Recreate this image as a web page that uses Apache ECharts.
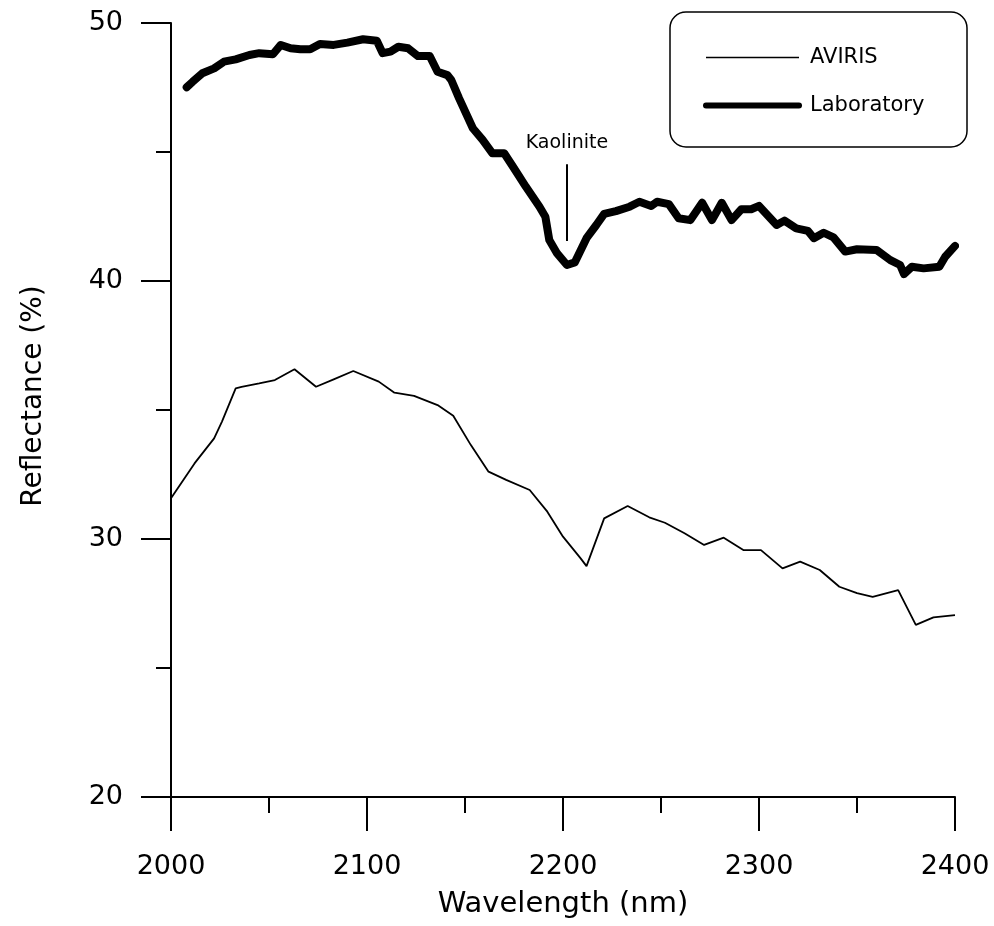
<!DOCTYPE html>
<html>
<head>
<meta charset="utf-8">
<script src="https://cdn.jsdelivr.net/npm/echarts@6/dist/echarts.min.js"></script>
<style>
  html, body { margin: 0; padding: 0; background: #fff; }
  #chart { width: 994px; height: 926px; }
</style>
</head>
<body>
<div id="chart"></div>
<script>
// Wavelength axis (nm) and reflectance axis (%) ticks
const xTicks = [2000, 2100, 2200, 2300, 2400];
const yTicks = [20, 30, 40, 50];

// AVIRIS image spectrum
const avirisWavelength = [2000, 2012, 2022, 2026, 2033, 2036, 2045, 2053, 2063, 2074, 2083, 2093,
  2106, 2114, 2124, 2136, 2144, 2153, 2162, 2171, 2183, 2192, 2200, 2209, 2212, 2221, 2233,
  2244, 2252, 2262, 2272, 2282, 2292, 2301, 2312, 2321, 2331, 2341, 2350, 2358, 2371, 2380,
  2389, 2400];
const avirisReflectance = [31.58, 32.93, 33.90, 34.55, 35.84, 35.90, 36.03, 36.16, 36.58, 35.90,
  36.19, 36.51, 36.10, 35.67, 35.55, 35.19, 34.78, 33.64, 32.61, 32.29, 31.90, 31.06, 30.09,
  29.25, 28.95, 30.80, 31.28, 30.84, 30.63, 30.22, 29.77, 30.05, 29.57, 29.57, 28.86, 29.12,
  28.80, 28.15, 27.90, 27.76, 28.02, 26.67, 26.96, 27.05];

// Laboratory spectrum
const labWavelength = [2008, 2011, 2016, 2022, 2027, 2033, 2040, 2045, 2052, 2056, 2061, 2066,
  2071, 2076, 2083, 2090, 2098, 2105, 2108, 2112, 2116, 2121, 2126, 2132, 2136, 2141, 2143,
  2147, 2154, 2159, 2164, 2170, 2175, 2181, 2188, 2191, 2193, 2197, 2202, 2206, 2212, 2217,
  2221, 2227, 2234, 2239, 2245, 2248, 2254, 2259, 2265, 2271, 2276, 2281, 2286, 2291, 2296,
  2300, 2309, 2313, 2319, 2325, 2328, 2333, 2338, 2344, 2350, 2360, 2367, 2372, 2374, 2378,
  2384, 2392, 2395, 2400];
const labReflectance = [47.51, 47.72, 48.05, 48.24, 48.50, 48.59, 48.76, 48.83, 48.79, 49.15,
  49.02, 48.98, 48.98, 49.19, 49.15, 49.24, 49.37, 49.31, 48.83, 48.89, 49.08, 49.02, 48.72,
  48.72, 48.11, 47.98, 47.79, 47.08, 45.92, 45.47, 44.95, 44.95, 44.37, 43.66, 42.88, 42.49,
  41.59, 41.07, 40.62, 40.72, 41.66, 42.17, 42.60, 42.71, 42.88, 43.07, 42.91, 43.07, 42.98,
  42.43, 42.36, 43.03, 42.36, 43.03, 42.36, 42.78, 42.78, 42.91, 42.17, 42.34, 42.04, 41.94,
  41.66, 41.87, 41.69, 41.14, 41.23, 41.20, 40.81, 40.62, 40.27, 40.55, 40.49, 40.55, 40.94,
  41.36];

// Kaolinite absorption marker: position and vertical extent
const kaoliniteWavelength = 2202;
const kaoliniteRange = [41.55, 44.53];

const pairs = (xs, ys) => xs.map((x, i) => [x, ys[i]]);

const FONT = 'DejaVu Sans';
const chart = echarts.init(document.getElementById('chart'), null, { renderer: 'canvas' });

// legend keys show only the line stroke, no marker
const hiddenMarker = { opacity: 0, borderWidth: 0 };

chart.setOption({
  animation: false,
  backgroundColor: '#fff',
  grid: { left: 171, right: 39, top: 23, bottom: 129, containLabel: false, outerBoundsMode: 'none' },
  legend: {
    orient: 'vertical',
    left: 698,
    top: 42,
    itemWidth: 93,
    itemHeight: 22,
    itemGap: 27,
    textStyle: { fontFamily: FONT, fontSize: 21, color: '#000', padding: [0, 0, 0, 6] },
    data: [
      { name: 'AVIRIS', lineStyle: { width: 1.5, color: '#000' }, itemStyle: hiddenMarker },
      { name: 'Laboratory', lineStyle: { width: 6, color: '#000' }, itemStyle: hiddenMarker }
    ]
  },
  graphic: [{
    type: 'rect',
    shape: { x: 670, y: 12, width: 297, height: 135, r: 16 },
    style: { fill: 'none', stroke: '#000', lineWidth: 1.5 },
    z: 0
  }],
  xAxis: {
    type: 'value',
    min: xTicks[0],
    max: xTicks[xTicks.length - 1],
    interval: 100,
    name: 'Wavelength (nm)',
    nameLocation: 'middle',
    nameGap: 93,
    nameTextStyle: { fontFamily: FONT, fontSize: 29, color: '#000' },
    axisLine: { show: true, onZero: false, lineStyle: { color: '#000', width: 2 } },
    axisTick: { show: true, length: 34, lineStyle: { color: '#000', width: 2 } },
    minorTick: { show: true, splitNumber: 2, length: 16, lineStyle: { color: '#000', width: 2 } },
    axisLabel: { fontFamily: FONT, fontSize: 27, color: '#000', margin: 56, formatter: v => String(v) },
    splitLine: { show: false }
  },
  yAxis: {
    type: 'value',
    min: yTicks[0],
    max: yTicks[yTicks.length - 1],
    interval: 10,
    name: 'Reflectance (%)',
    nameLocation: 'middle',
    nameGap: 123,
    nameRotate: 90,
    nameTextStyle: { fontFamily: FONT, fontSize: 28, color: '#000', padding: [0, 0, 0, 28] },
    axisLine: { show: true, onZero: false, lineStyle: { color: '#000', width: 2 } },
    axisTick: { show: true, length: 30, lineStyle: { color: '#000', width: 2 } },
    minorTick: { show: true, splitNumber: 2, length: 15, lineStyle: { color: '#000', width: 2 } },
    axisLabel: { fontFamily: FONT, fontSize: 27, color: '#000', margin: 48, formatter: v => String(v) },
    splitLine: { show: false }
  },
  series: [
    {
      name: 'AVIRIS',
      type: 'line',
      symbol: 'none',
      data: pairs(avirisWavelength, avirisReflectance),
      lineStyle: { color: '#000', width: 1.8 },
      itemStyle: { color: '#000' }
    },
    {
      name: 'Laboratory',
      type: 'line',
      symbol: 'none',
      data: pairs(labWavelength, labReflectance),
      lineStyle: { color: '#000', width: 8, join: 'round', cap: 'round' },
      itemStyle: { color: '#000' },
      markLine: {
        silent: true,
        symbol: 'none',
        lineStyle: { color: '#000', width: 2, type: 'solid' },
        label: {
          show: true,
          position: 'end',
          distance: 12,
          formatter: 'Kaolinite',
          fontFamily: FONT,
          fontSize: 19,
          color: '#000'
        },
        data: [[
          { coord: [kaoliniteWavelength, kaoliniteRange[0]] },
          { coord: [kaoliniteWavelength, kaoliniteRange[1]] }
        ]]
      }
    }
  ]
});
</script>
</body>
</html>
